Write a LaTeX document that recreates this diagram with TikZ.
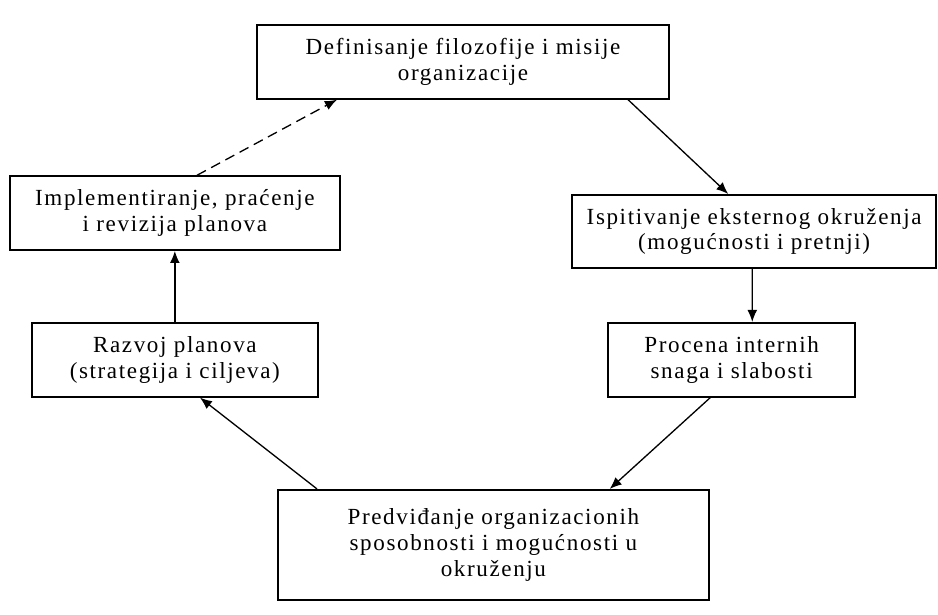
\documentclass[tikz,border=0pt]{standalone}
\usepackage{fontspec}
\setmainfont{Liberation Serif}[LetterSpace=7]
\usetikzlibrary{arrows.meta}

\begin{document}
\begin{tikzpicture}[>={Latex[length=3.2mm,width=2.6mm]},
  box/.style={draw,line width=1.3pt,align=center,inner sep=0pt,minimum height=1.97cm,font=\fontsize{17.5}{19.5}\selectfont},
  link/.style={->,line width=1pt}]
  \useasboundingbox (0,0) rectangle (25,16.39);
  \node[box,minimum width=10.98cm] (misija) at (12.34,14.74) {Definisanje filozofije i misije\\organizacije};
  \node[box,minimum width=9.70cm,minimum height=1.95cm] (eksterno) at (20.10,10.22) {Ispitivanje eksternog okruženja\\(mogućnosti i pretnji)};
  \node[box,minimum width=6.58cm] (interno) at (19.50,6.80) {Procena internih\\snaga i slabosti};
  \node[box,minimum width=11.49cm,minimum height=2.93cm] (predvidjanje) at (13.15,1.87) {Predviđanje organizacionih\\sposobnosti i mogućnosti u\\okruženju};
  \node[box,minimum width=7.62cm] (razvoj) at (4.66,6.80) {Razvoj planova\\(strategija i ciljeva)};
  \node[box,minimum width=8.80cm] (impl) at (4.66,10.71) {Implementiranje, praćenje\\i revizija planova};
  \draw[link] ([xshift=4.4cm]misija.south) -- ([xshift=-0.69cm]eksterno.north);
  \draw[link] ([xshift=-0.05cm]eksterno.south) -- ([xshift=0.55cm]interno.north);
  \draw[link] ([xshift=-0.57cm]interno.south) -- ([xshift=3.10cm]predvidjanje.north);
  \draw[link] ([xshift=-4.70cm]predvidjanje.north) -- ([xshift=0.67cm]razvoj.south);
  \draw[link] (razvoj.north) -- (impl.south);
  \draw[link,dashed,dash pattern=on 0.27cm off 0.16cm] ([xshift=0.59cm]impl.north) -- ([xshift=-3.36cm]misija.south);
\end{tikzpicture}
\end{document}
